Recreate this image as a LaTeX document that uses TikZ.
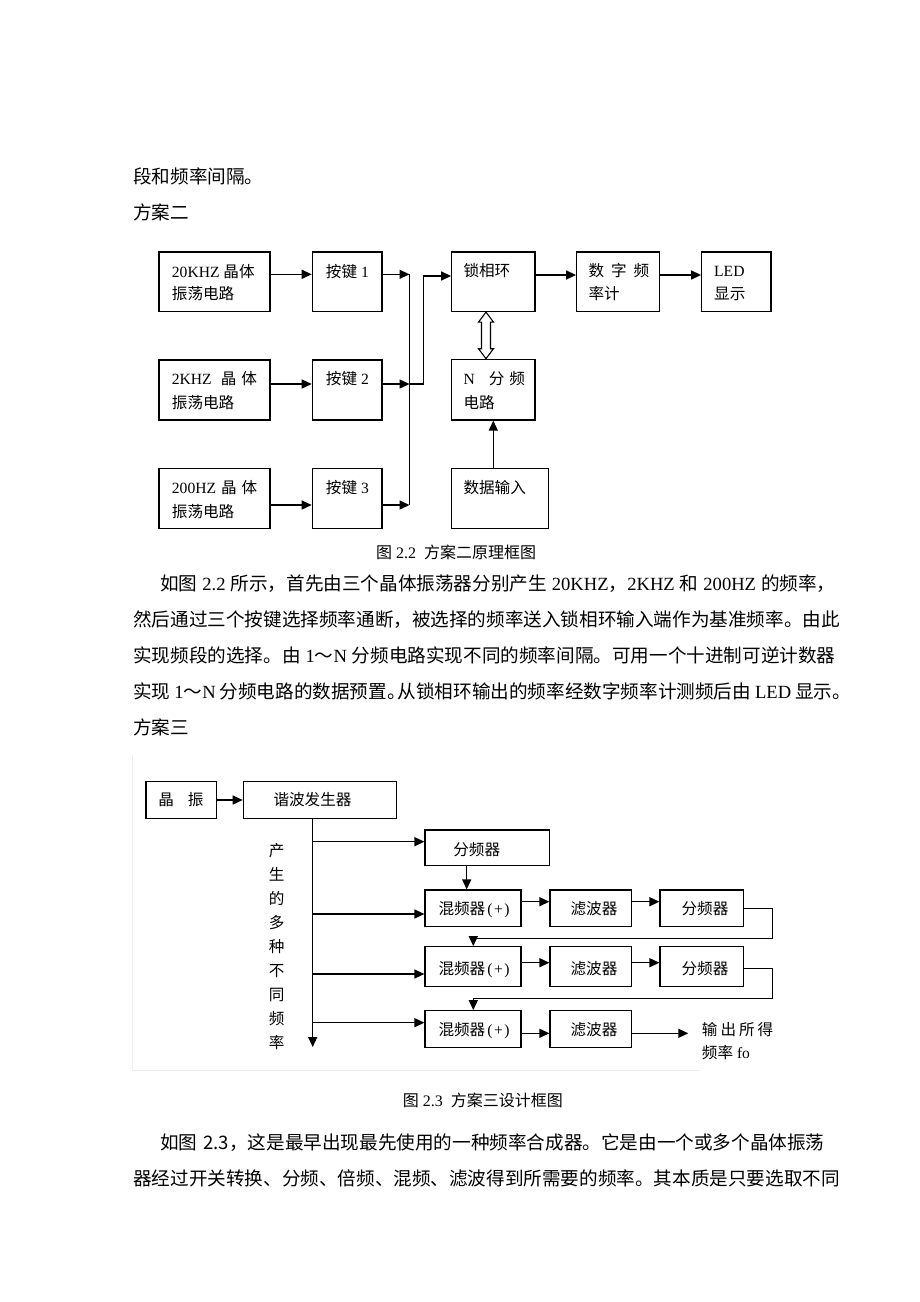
\documentclass[tikz,border=0pt]{standalone}
\usepackage{fontspec}
\setmainfont{Liberation Serif}
\newfontfamily\cjk{Noto Sans CJK SC}
\usetikzlibrary{arrows.meta}
\XeTeXlinebreaklocale "zh"
\XeTeXlinebreakskip=0pt plus 3pt minus 1pt
\newcommand\zh[1]{{\cjk #1}}
\newcommand\dfont{\fontsize{15.6}{18}\selectfont}
\newcommand\bfont{\fontsize{18.6}{22}\selectfont}
\newcommand\cfont{\fontsize{16}{19}\selectfont}
\newcommand\mkbox[5]{%
  \pgfmathsetmacro\bxw{#4-#2}\pgfmathsetmacro\bxh{#5-#3}%
  \node[box, minimum width=\bxw pt, minimum height=\bxh pt] (#1) at ({(#2+#4)/2},{(#3+#5)/2}) {};}
\begin{document}
\begin{tikzpicture}[x=1pt,y=-1pt,
  box/.style={draw, line width=1.2pt, inner sep=0pt},
  arr/.style={line width=1.4pt, -{Triangle[length=10pt,width=9pt]}},
  ln/.style={line width=1.4pt},
  lbl/.style={anchor=base west, inner sep=0pt, font=\dfont},
  clbl/.style={anchor=base, inner sep=0pt, font=\dfont},
  body/.style={anchor=base west, inner sep=0pt, font=\bfont},
  captxt/.style={anchor=base west, inner sep=0pt, font=\cfont},
  hollow/.style={line width=1.1pt, fill=white, line join=miter}]
\fill[white] (0,0) rectangle (920,1302);
\useasboundingbox (0,0) rectangle (920,1302);

% ---------- top text ----------
\node[body] (l0) at (133,183.2) {\zh{段和频率间隔。}};
\node[body] (l1) at (133,219.2) {\zh{方案二}};

% ---------- figure 2.2 ----------
\mkbox{a1}{159}{252}{270}{311.5}
\mkbox{k1}{312.3}{252}{382}{311.5}
\mkbox{pll}{451.7}{252}{535}{311.5}
\mkbox{dfm}{576.7}{252}{659.3}{311.5}
\mkbox{led}{701.7}{252}{771}{311.5}
\mkbox{a2}{159}{360}{270}{420}
\mkbox{k2}{312.3}{360}{382}{420}
\mkbox{nd}{451.7}{359.3}{535}{420}
\mkbox{a3}{159}{468.3}{270}{528.3}
\mkbox{k3}{312.3}{468.3}{382}{528.3}
\mkbox{din}{451.7}{468.3}{548.3}{528.3}

\node[lbl] (ta1a) at (171.7,277.5) {20KHZ \zh{晶体}};
\node[lbl] (ta1b) at (171.7,299.5) {\zh{振荡电路}};
\node[lbl] (ta2a) at (171.7,384.8) {2KHZ\hspace{9pt}\zh{晶}\hspace{5pt}\zh{体}};
\node[lbl] (ta2b) at (171.7,408.5) {\zh{振荡电路}};
\node[lbl] (ta3a) at (171.7,493.5) {200HZ\hspace{5pt}\zh{晶}\hspace{5pt}\zh{体}};
\node[lbl] (ta3b) at (171.7,517.5) {\zh{振荡电路}};
\node[lbl] (tk1) at (325.7,277.5) {\zh{按键} 1};
\node[lbl] (tk2) at (325.7,384.8) {\zh{按键} 2};
\node[lbl] (tk3) at (325.7,493.5) {\zh{按键} 3};
\node[lbl] (tpll) at (463.3,276.5) {\zh{锁相环}};
\node[lbl] (tdfma) at (588.3,276.5) {\zh{数}\hspace{7pt}\zh{字}\hspace{7pt}\zh{频}};
\node[lbl] (tdfmb) at (588.3,299.5) {\zh{率计}};
\node[lbl] (tleda) at (714,276.5) {LED};
\node[lbl] (tledb) at (714,299.5) {\zh{显示}};
\node[lbl] (tnda) at (463.3,384.8) {N\hspace{14pt}\zh{分}\hspace{5pt}\zh{频}};
\node[lbl] (tndb) at (463.3,408.5) {\zh{电路}};
\node[lbl] (tdin) at (463.3,493.5) {\zh{数据输入}};

\coordinate (r1) at (0,274.3);
\coordinate (r2) at (0,384);
\coordinate (r3) at (0,505);
\coordinate (bus) at (409.5,0);
\coordinate (jx) at (423.3,0);
\coordinate (pin) at (0,276);
\coordinate (pout) at (0,275);
\coordinate (dax) at (486,0);
\coordinate (dax2) at (493.3,0);

\draw[arr] (a1.east |- r1) -- (k1.west |- r1);
\draw[arr] (a2.east |- r2) -- (k2.west |- r2);
\draw[arr] (a3.east |- r3) -- (k3.west |- r3);
\draw[ln] (bus |- r1) -- (bus |- r3);
\draw[arr] (k1.east |- r1) -- (bus |- r1);
\draw[arr] (k2.east |- r2) -- (bus |- r2);
\draw[arr] (k3.east |- r3) -- (bus |- r3);
\draw[arr] (bus |- r2) -- (jx |- r2) -- (jx |- pin) -- (pll.west |- pin);
\draw[arr] (pll.east |- pout) -- (dfm.west |- pout);
\draw[arr] (dfm.east |- pout) -- (led.west |- pout);
\draw[arr] (dax2 |- din.north) -- (dax2 |- nd.south);
\path (dax |- pll.south) coordinate (dt) (dax |- nd.north) coordinate (db);
\draw[hollow] (dt) -- ([shift={(7.5,10)}]dt) -- ([shift={(4.5,10)}]dt)
  -- ([shift={(4.5,-10)}]db) -- ([shift={(7.5,-10)}]db) -- (db)
  -- ([shift={(-7.5,-10)}]db) -- ([shift={(-4.5,-10)}]db)
  -- ([shift={(-4.5,10)}]dt) -- ([shift={(-7.5,10)}]dt) -- cycle;

\node[captxt] (cap1) at (376,558.5) {\zh{图} 2.2\hspace{8pt}\zh{方案二原理框图}};

% ---------- paragraph ----------
\node[body] (p1) at (160,590.2) {\makebox[678pt][s]{\zh{如图}\kern5pt 2.2\kern5pt\zh{所示，首先由三个晶体振荡器分别产生}\kern5pt 20KHZ\zh{，}2KHZ\kern5pt\zh{和}\kern5pt 200HZ\kern5pt\zh{的频率，}}};
\node[body] (p2) at (133,626.2) {\makebox[705pt][s]{\zh{然后通过三个按键选择频率通断，被选择的频率送入锁相环输入端作为基准频率。由此}}};
\node[body] (p3) at (133,662.2) {\makebox[705pt][s]{\zh{实现频段的选择。由}\kern5pt 1\zh{～}N\kern5pt\zh{分频电路实现不同的频率间隔。可用一个十进制可逆计数器}}};
\node[body] (p4) at (133,698.2) {\makebox[705pt][s]{\zh{实现}\kern4pt 1\zh{～}N\kern4pt\zh{分频电路的数据预置。}\kern-8pt\zh{从锁相环输出的频率经数字频率计测频后由}\kern4pt LED\kern4pt\zh{显示。}}};
\node[body] (p5) at (133,734.2) {\zh{方案三}};

% ---------- figure 2.3 ----------
\draw[black!7, line width=0.8pt] (132,755) -- (132,1070) -- (700,1070);

\mkbox{xz}{146}{781.7}{216.7}{818.3}
\mkbox{hb}{243.3}{781.7}{396.7}{818.3}
\mkbox{fp0}{425}{830}{549.3}{865.7}
\mkbox{m1}{425}{890}{521}{926.7}
\mkbox{f1}{550}{890}{631.7}{926.7}
\mkbox{d1}{660}{890}{743.3}{926.7}
\mkbox{m2}{425}{946.7}{521}{986.7}
\mkbox{f2}{550}{946.7}{631.7}{986.7}
\mkbox{d2}{660}{946.7}{743.3}{986.7}
\mkbox{m3}{425}{1010.7}{521}{1047.3}
\mkbox{f3}{550}{1010.7}{631.7}{1047.3}

\node[clbl] (txz) at (181,805.5) {\zh{晶}\hspace{14pt}\zh{振}};
\node[clbl] (thb) at (312.5,805.5) {\zh{谐波发生器}};
\node[clbl] (tfp0) at (476.7,855.5) {\zh{分频器}};
\node[clbl] (tm1) at (474,914.8) {\zh{混频器}\kern2pt(\kern1.5pt+\kern1.5pt)};
\node[clbl] (tf1) at (594,914.8) {\zh{滤波器}};
\node[clbl] (td1) at (705,914.8) {\zh{分频器}};
\node[clbl] (tm2) at (474,974.8) {\zh{混频器}\kern2pt(\kern1.5pt+\kern1.5pt)};
\node[clbl] (tf2) at (594,974.8) {\zh{滤波器}};
\node[clbl] (td2) at (705,974.8) {\zh{分频器}};
\node[clbl] (tm3) at (474,1035.5) {\zh{混频器}\kern2pt(\kern1.5pt+\kern1.5pt)};
\node[clbl] (tf3) at (594,1035.5) {\zh{滤波器}};
\node[anchor=center, inner sep=0pt, align=center, font={\cjk\fontsize{15.6}{24}\selectfont}] (vt) at (276.7,946.5)
  {产\\生\\的\\多\\种\\不\\同\\频\\率};
\node[lbl] (outa) at (701.7,1035.5) {\zh{输}\hspace{3pt}\zh{出}\hspace{3pt}\zh{所}\hspace{3pt}\zh{得}};
\node[lbl] (outb) at (701.7,1058.8) {\zh{频率} fo};

\coordinate (bx) at (312.7,0);
\coordinate (bend) at (312.7,1047);
\coordinate (b1) at (0,841.7);
\coordinate (b2) at (0,914);
\coordinate (b3) at (0,974);
\coordinate (b4) at (0,1022.7);
\coordinate (c1) at (466.7,0);
\coordinate (y1) at (0,901.7);
\coordinate (y2) at (0,962.7);
\coordinate (y3) at (0,1033.3);
\coordinate (fb1) at (0,908.3);
\coordinate (fb2) at (0,968.3);
\coordinate (fl1) at (0,938.3);
\coordinate (fl2) at (0,998.3);
\coordinate (fbx) at (772.3,0);
\coordinate (fbc) at (473.3,0);
\coordinate (outend) at (688.3,1033.3);

\draw[arr] (xz) -- (hb);
\draw[arr] (bx |- hb.south) -- (bend);
\draw[arr] (bx |- b1) -- (fp0.west |- b1);
\draw[arr] (bx |- b2) -- (m1.west |- b2);
\draw[arr] (bx |- b3) -- (m2.west |- b3);
\draw[arr] (bx |- b4) -- (m3.west |- b4);
\draw[arr] (c1 |- fp0.south) -- (c1 |- m1.north);
\draw[arr] (m1.east |- y1) -- (f1.west |- y1);
\draw[arr] (f1.east |- y1) -- (d1.west |- y1);
\draw[arr] (d1.east |- fb1) -- (fbx |- fb1) -- (fbx |- fl1) -- (fbc |- fl1) -- (fbc |- m2.north);
\draw[arr] (m2.east |- y2) -- (f2.west |- y2);
\draw[arr] (f2.east |- y2) -- (d2.west |- y2);
\draw[arr] (d2.east |- fb2) -- (fbx |- fb2) -- (fbx |- fl2) -- (fbc |- fl2) -- (fbc |- m3.north);
\draw[arr] (m3.east |- y3) -- (f3.west |- y3);
\draw[arr] (f3.east |- y3) -- (outend);

\node[captxt] (cap2) at (402.7,1106) {\zh{图} 2.3\hspace{8pt}\zh{方案三设计框图}};

\node[body] (q1) at (160,1149.2) {\makebox[678pt][s]{\zh{如图}\kern6pt\zh{2.3，这是最早出现最先使用的一种频率合成器。它是由一个或多个晶体振荡}}};
\node[body] (q2) at (133,1185.2) {\makebox[705pt][s]{\zh{器经过开关转换、分频、倍频、混频、滤波得到所需要的频率。其本质是只要选取不同}}};
\end{tikzpicture}
\end{document}
